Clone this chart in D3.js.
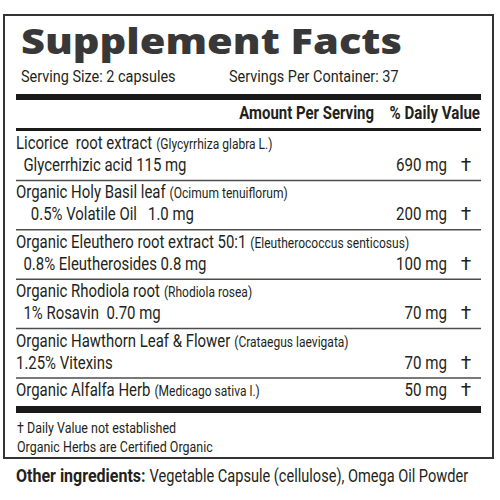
<!DOCTYPE html>
<html>
<head>
<meta charset="utf-8">
<script src="https://cdn.jsdelivr.net/npm/d3@7"></script>
<style>
  body { margin: 0; background: #fff; }
  text { white-space: pre; }
</style>
</head>
<body>
<script>
/* supplement facts label */
var names = ["Licorice  root extract", "Organic Holy Basil leaf", "Organic Eleuthero root extract 50:1",
             "Organic Rhodiola root", "Organic Hawthorn Leaf & Flower", "Organic Alfalfa Herb"];
var latin = ["(Glycyrrhiza glabra L.)", "(Ocimum tenuiflorum)", "(Eleutherococcus senticosus)",
             "(Rhodiola rosea)", "(Crataegus laevigata)", "(Medicago sativa l.)"];
var subLines = ["  Glycerrhizic acid 115 mg", "    0.5% Volatile Oil   1.0 mg", "  0.8% Eleutherosides 0.8 mg",
                "  1% Rosavin  0.70 mg", "1.25% Vitexins", ""];
var amounts = ["690 mg", "200 mg", "100 mg", "70 mg", "70 mg", "50 mg"];
var dailyValue = ["†", "†", "†", "†", "†", "†"];
var footnotes = ["† Daily Value not established", "Organic Herbs are Certified Organic"];

var W = 500, H = 500;

var svg = d3.select("body").append("svg")
    .attr("width", W)
    .attr("height", H)
    .style("font-family", "Roboto, 'Open Sans', sans-serif")
    .attr("fill", "#231f20");

// text squeezed horizontally by k (the label uses a condensed face)
function txt(parent, x, y, size, k, str, anchor, weight) {
    var t = parent.append("text")
        .attr("transform", "translate(" + x + "," + y + ") scale(" + k + ",1)")
        .attr("font-size", size)
        .attr("font-weight", weight || 400)
        .attr("text-anchor", anchor || "start")
        .text(str);
    t.w = t.node().getComputedTextLength() * k;
    return t;
}

// outer box
svg.append("rect")
    .attr("x", 4).attr("y", 15)
    .attr("width", 489).attr("height", 443)
    .attr("fill", "none")
    .attr("stroke", "#333")
    .attr("stroke-width", 2);

// title
svg.append("text")
    .attr("x", 21).attr("y", 54)
    .attr("font-family", "'Open Sans', sans-serif")
    .attr("font-weight", 800)
    .attr("font-size", 36)
    .attr("fill", "#383838")
    .attr("textLength", 381)
    .attr("lengthAdjust", "spacingAndGlyphs")
    .text("Supplement Facts");

txt(svg, 21, 82, 17, 0.85, "Serving Size: 2 capsules");
txt(svg, 229, 82, 17, 0.85, "Servings Per Container: 37");

// thick bars
function bar(y, h) {
    svg.append("rect").attr("x", 16).attr("y", y).attr("width", 465).attr("height", h).attr("fill", "#1a1a1a");
}
bar(94, 6);
bar(128, 3);

txt(svg, 374, 119, 18, 0.83, "Amount Per Serving", "end", 700);
txt(svg, 480, 119, 18, 0.84, "% Daily Value", "end", 700);

// rows: height in units from number of text lines
var rowUnits = subLines.map(function(s) { return s ? 2 * 21.4 + 6.6 : 28; });
var rowTop = [0];
rowUnits.forEach(function(u, i) { rowTop.push(rowTop[i] + u); });
var y = d3.scaleLinear().domain([0, rowTop[rowTop.length - 1]]).range([131, 406]);

var rows = svg.selectAll("g.row")
    .data(names)
    .enter().append("g")
    .attr("class", "row")
    .attr("transform", function(d, i) { return "translate(0," + y(rowTop[i]) + ")"; });

rows.each(function(d, i) {
    var g = d3.select(this);
    var two = !!subLines[i];
    var main = txt(g, 16, 18, 18, 0.83, d);
    txt(g, 16 + main.w + 4, 18, 14, 0.86, latin[i]);
    var vy = two ? 40 : 18;
    if (two) txt(g, 16, vy, 18, 0.83, subLines[i]);
    txt(g, 447, vy, 18, 0.84, amounts[i], "end");
    g.append("text").attr("x", 466).attr("y", vy).attr("font-size", 19)
        .attr("text-anchor", "middle").text(dailyValue[i]);
    // separator under every row but the last
    if (i < names.length - 1) {
        var h = y(rowTop[i + 1]) - y(rowTop[i]);
        g.append("line")
            .attr("x1", 16).attr("x2", 481)
            .attr("y1", h).attr("y2", h)
            .attr("stroke", "#4d4d4d")
            .attr("stroke-width", 1.5);
    }
});

bar(406, 7);

footnotes.forEach(function(f, i) {
    txt(svg, 17, 433 + i * 19, 14.5, 0.86, f);
});

var oi = txt(svg, 16, 482, 18, 0.89, "Other ingredients:", "start", 700);
txt(svg, 16 + oi.w + 4, 482, 18, 0.81, "Vegetable Capsule (cellulose), Omega Oil Powder");
</script>
</body>
</html>
